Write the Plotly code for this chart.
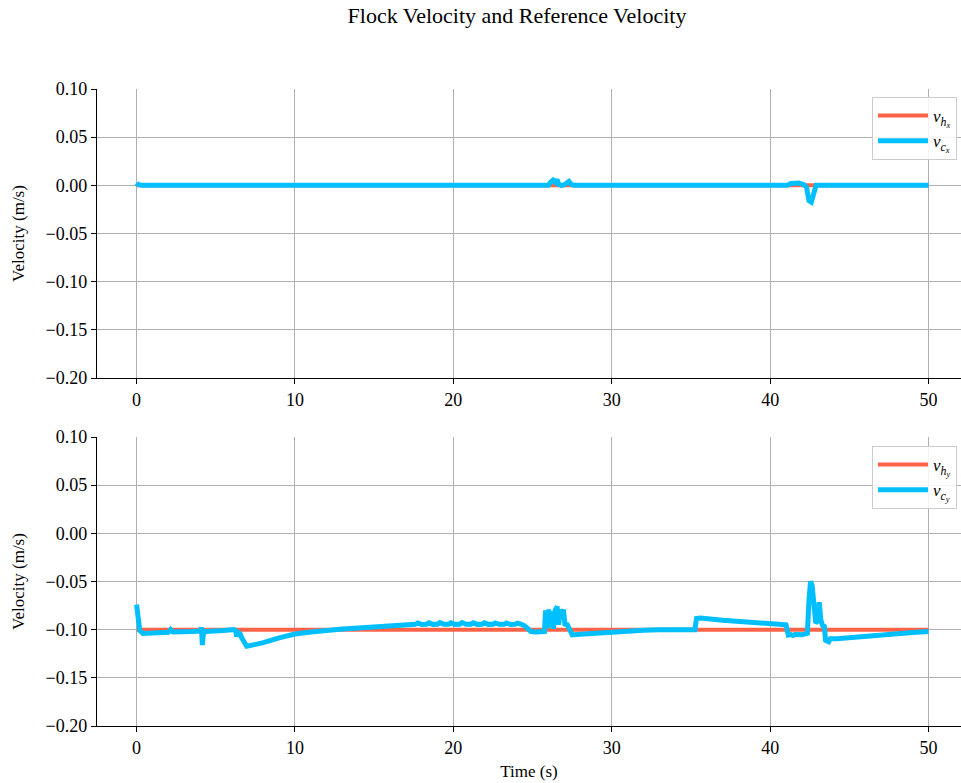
import plotly.graph_objects as go

# ---- data -------------------------------------------------------------
time_ref = [0.0, 50.0]
v_hx = [0.0, 0.0]
v_hy = [-0.1, -0.1]

t_cx = [0.00, 0.08, 0.30, 17.4, 17.6, 17.9, 18.2, 18.5, 18.8, 19.1, 19.4,
        19.7, 20.0, 20.3, 20.6, 20.9, 21.2, 21.5, 21.8, 22.1, 22.4, 22.7,
        23.0, 23.3, 23.6, 23.9, 24.2, 24.6, 26.0, 26.15, 26.3, 26.45,
        26.55, 26.65, 26.8, 27.0, 27.15, 27.3, 27.45, 27.6, 41.1, 41.3,
        41.8, 42.1, 42.3, 42.45, 42.6, 42.75, 42.9, 50.0]
v_cx = [0.0025, 0.0010, 0.0000, 0.0000, 0.0006, -0.0004, 0.0005, -0.0005,
        0.0004, -0.0003, 0.0006, -0.0004, 0.0005, -0.0005, 0.0004, -0.0004,
        0.0006, -0.0003, 0.0005, -0.0004, 0.0004, -0.0005, 0.0005, -0.0003,
        0.0004, -0.0004, 0.0003, 0.0000, 0.0000, 0.0035, 0.0055, 0.0030,
        0.0060, 0.0010, 0.0000, 0.0005, 0.0030, 0.0040, 0.0010, 0.0000,
        0.0000, 0.0020, 0.0025, 0.0010, -0.0020, -0.0160, -0.0175, -0.0080,
        0.0000, 0.0000]

t_cy = [0.00, 0.06, 0.20, 0.40, 1.00, 2.00, 2.15, 2.30, 3.50, 4.05, 4.10,
        4.15, 4.22, 4.35, 5.50, 6.15, 6.25, 6.32, 6.42, 6.55, 6.62, 6.75,
        6.95, 7.30, 8.00, 9.00, 10.0, 11.0, 12.0, 13.0, 14.0, 15.0, 16.0,
        17.0, 17.5,
        17.6, 17.75, 18.0, 18.3, 18.45, 18.7, 19.0, 19.15, 19.4, 19.7,
        19.85, 20.1, 20.4, 20.55, 20.8, 21.1, 21.25, 21.5, 21.8, 21.95,
        22.2, 22.5, 22.65, 22.9, 23.2, 23.35, 23.6, 23.9, 24.05, 24.3,
        24.5, 24.7, 24.9, 25.2, 25.75,
        25.82, 25.92, 26.02, 26.12, 26.22, 26.32, 26.42, 26.55, 26.65,
        26.75, 26.85, 26.95, 27.05, 27.15, 27.3,
        27.5, 28.0, 29.0, 30.0, 31.0, 32.0, 33.0, 35.25, 35.35, 35.6,
        37.0, 39.0, 40.9, 41.0, 41.15, 41.3, 41.45, 41.6, 42.0, 42.35,
        42.45, 42.55, 42.65, 42.78, 42.88, 43.0, 43.1, 43.2, 43.3, 43.42,
        43.5, 43.7, 43.8, 44.2, 45.0, 46.0, 47.0, 48.0, 49.0, 50.0]
v_cy = [-0.074, -0.080, -0.101, -0.104, -0.1035, -0.1028, -0.0998, -0.1025,
        -0.1020, -0.1015, -0.0975, -0.1160, -0.1040, -0.1018, -0.1008,
        -0.0998, -0.1010, -0.1070, -0.1030, -0.1045, -0.1080, -0.1110,
        -0.1172, -0.1160, -0.1135, -0.1085, -0.1045, -0.1025, -0.1005,
        -0.0992, -0.0982, -0.0974, -0.0966, -0.0959, -0.0954,
        -0.0945, -0.0930, -0.0946, -0.0944, -0.0928, -0.0945, -0.0943,
        -0.0927, -0.0944, -0.0944, -0.0929, -0.0945, -0.0943, -0.0926,
        -0.0944, -0.0944, -0.0928, -0.0945, -0.0944, -0.0929, -0.0945,
        -0.0944, -0.0930, -0.0945, -0.0945, -0.0931, -0.0946, -0.0945,
        -0.0933, -0.0946,
        -0.0960, -0.0990, -0.1020, -0.1025, -0.1020,
        -0.0800, -0.0985, -0.0790, -0.0975, -0.0810, -0.0990, -0.0800,
        -0.0760, -0.0950, -0.0790, -0.0840, -0.0790, -0.0960, -0.0935,
        -0.0985,
        -0.1055, -0.1048, -0.1035, -0.1022, -0.1012, -0.1005, -0.1002,
        -0.1000, -0.0885, -0.0880, -0.0902, -0.0925, -0.0942, -0.0950,
        -0.1055, -0.1050, -0.1060, -0.1048, -0.1052, -0.1038, -0.0700,
        -0.0500, -0.0540, -0.0870, -0.0930, -0.0910, -0.0715, -0.0900,
        -0.0955, -0.0965, -0.1110, -0.1125, -0.1095, -0.1095, -0.1082,
        -0.1068, -0.1055, -0.1042, -0.1030, -0.1020]

x_ticks = [0, 10, 20, 30, 40, 50]
y_ticks = [0.10, 0.05, 0.00, -0.05, -0.10, -0.15, -0.20]

RED = "#FF6347"
BLUE = "#00BFFF"
FONT = "Liberation Serif"

# ---- figure ------------------------------------------------------------
fig = go.Figure()

fig.add_trace(go.Scatter(x=time_ref, y=v_hx, mode="lines",
                         line=dict(color=RED, width=4),
                         name="<i>v</i><sub><i>h</i><sub><i>x</i></sub></sub>",
                         xaxis="x", yaxis="y", legend="legend"))
fig.add_trace(go.Scatter(x=t_cx, y=v_cx, mode="lines",
                         line=dict(color=BLUE, width=5),
                         name="<i>v</i><sub><i>c</i><sub><i>x</i></sub></sub>",
                         xaxis="x", yaxis="y", legend="legend"))
fig.add_trace(go.Scatter(x=time_ref, y=v_hy, mode="lines",
                         line=dict(color=RED, width=4),
                         name="<i>v</i><sub><i>h</i><sub><i>y</i></sub></sub>",
                         xaxis="x2", yaxis="y2", legend="legend2"))
fig.add_trace(go.Scatter(x=t_cy, y=v_cy, mode="lines",
                         line=dict(color=BLUE, width=5),
                         name="<i>v</i><sub><i>c</i><sub><i>y</i></sub></sub>",
                         xaxis="x2", yaxis="y2", legend="legend2"))

W, H = 961, 783
x_dom = [97 / W, 1.0]
top_dom = [1 - 378 / H, 1 - 89 / H]
bot_dom = [1 - 726 / H, 1 - 437 / H]

common_x = dict(range=[-2.5, 52.05], tickvals=x_ticks, showgrid=True,
                gridcolor="#b0b0b0", gridwidth=1, zeroline=False,
                showline=True, linecolor="black", linewidth=1.3,
                ticks="outside", ticklen=5, tickcolor="black",
                automargin=False,
                tickfont=dict(size=18, color="black", family=FONT))
common_y = dict(range=[-0.2, 0.1], tickvals=y_ticks, tickformat=".2f",
                showgrid=True, gridcolor="#b0b0b0", gridwidth=1,
                zeroline=False, showline=True, linecolor="black",
                linewidth=1.3, ticks="outside", ticklen=5, tickcolor="black",
                automargin=False,
                tickfont=dict(size=18, color="black", family=FONT),
                title=dict(text="Velocity (m/s)",
                           font=dict(size=17, color="black", family=FONT),
                           standoff=16))

legend_style = dict(bgcolor="rgba(255,255,255,0.85)", bordercolor="#cccccc",
                    borderwidth=1, font=dict(size=17, color="black",
                                             family=FONT),
                    xanchor="right", yanchor="top", x=957 / W,
                    tracegroupgap=0, itemwidth=50)

fig.update_layout(
    width=W, height=H,
    margin=dict(l=0, r=0, t=0, b=0),
    paper_bgcolor="white", plot_bgcolor="white",
    font=dict(family=FONT, color="black"),
    title=dict(text="Flock Velocity and Reference Velocity",
               x=517 / W, xanchor="center", y=1 - 15 / H, yanchor="middle",
               font=dict(size=22, color="black", family=FONT)),
    xaxis=dict(domain=x_dom, anchor="y", **common_x),
    yaxis=dict(domain=top_dom, anchor="x", **common_y),
    xaxis2=dict(domain=x_dom, anchor="y2",
                title=dict(text="Time (s)",
                           font=dict(size=17, color="black", family=FONT),
                           standoff=8),
                **common_x),
    yaxis2=dict(domain=bot_dom, anchor="x2", **common_y),
    legend=dict(y=1 - 97 / H, **legend_style),
    legend2=dict(y=1 - 446 / H, **legend_style),
)

fig.write_html("out.html")
